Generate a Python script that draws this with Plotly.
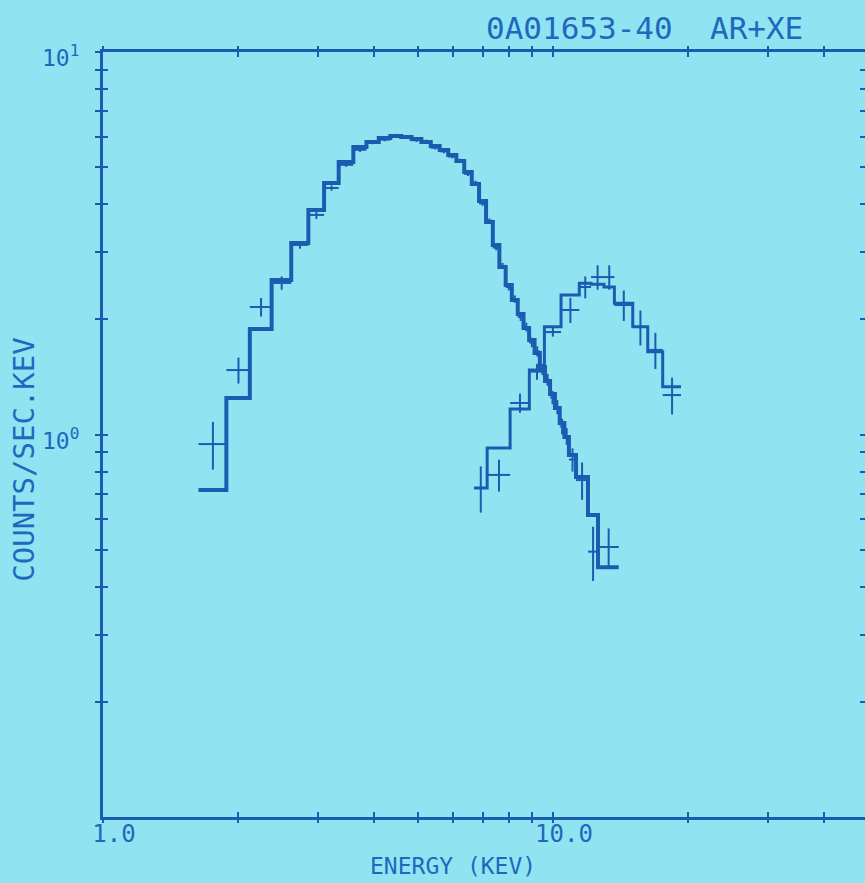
import plotly.graph_objects as go

# ---------------- data ----------------
ar_edges = [1.63, 1.88, 2.12, 2.37, 2.62, 2.86, 3.10, 3.34, 3.60, 3.85, 4.10, 4.35,
            4.60, 4.85, 5.10, 5.35, 5.60, 5.85, 6.10, 6.35, 6.60, 6.85, 7.10, 7.35,
            7.60, 7.85, 8.10, 8.35, 8.60, 8.85, 9.10, 9.35, 9.60, 9.85, 10.10, 10.35,
            10.60, 10.85, 11.25, 11.96, 12.59, 14.0]
ar_model = [0.716, 1.246, 1.887, 2.535, 3.167, 3.863, 4.545, 5.158, 5.644, 5.817,
            5.959, 6.031, 5.995, 5.923, 5.817, 5.678, 5.544, 5.380, 5.188, 4.858,
            4.518, 4.078, 3.594, 3.129, 2.741, 2.460, 2.247, 2.065, 1.898, 1.766,
            1.633, 1.501, 1.380, 1.276, 1.173, 1.072, 0.985, 0.884, 0.774, 0.616, 0.450]
ar_data = [0.944, 1.474, 2.154, 2.49, 3.13, 3.75, 4.41, 5.07, 5.55, 5.80,
           5.90, 6.05, 6.00, 5.88, 5.84, 5.62, 5.50, 5.33, 5.20, 4.80,
           4.55, 4.02, 3.62, 3.08, 2.76, 2.43, 2.26, 2.03, 1.91, 1.74,
           1.65, 1.48, 1.39, 1.25, 1.18, 1.05, 0.99, 0.86, 0.76, 0.494, 0.508]
ar_err = [0.135, 0.115, 0.12, 0.10, 0.07, 0.09, 0.07, 0.06, 0.07, 0.06,
          0.06, 0.06, 0.06, 0.06, 0.06, 0.06, 0.06, 0.06, 0.06, 0.06,
          0.06, 0.06, 0.05, 0.05, 0.05, 0.05, 0.05, 0.05, 0.05, 0.05,
          0.05, 0.05, 0.05, 0.05, 0.05, 0.05, 0.05, 0.06, 0.085, 0.08, 0.06]

xe_edges = [6.68, 7.14, 8.03, 8.86, 9.57, 10.42, 11.44, 12.15, 12.98, 13.69,
            15.04, 16.24, 17.53, 19.25]
xe_model = [0.725, 0.922, 1.166, 1.474, 1.913, 2.316, 2.485, 2.47, 2.43, 2.203,
            1.913, 1.646, 1.334]
xe_data = [0.725, 0.784, 1.209, 1.46, 1.853, 2.116, 2.43, 2.58, 2.58, 2.18,
           1.91, 1.664, 1.268]
xe_err = [0.10, 0.075, 0.07, 0.07, 0.05, 0.16, 0.16, 0.19, 0.19, 0.20,
          0.20, 0.18, 0.14]

x_major = [1, 10]
x_major_text = ["1.0", "10.0"]
x_minor = [2, 3, 4, 5, 6, 7, 8, 9, 20, 30, 40]
y_major = [1, 10]
y_major_text = ["10<sup>0</sup>", "10<sup>1</sup>"]
y_minor = [0.2, 0.3, 0.4, 0.5, 0.6, 0.7, 0.8, 0.9, 2, 3, 4, 5, 6, 7, 8, 9]

title_text = "0A01653-40  AR+XE"
x_title = "ENERGY (KEV)"
y_title = "COUNTS/SEC.KEV"

# ---------------- style ----------------
BG = "#90e4f2"
INK = "#1a5cb0"
TXT = "#1f68bd"
FONT = "DejaVu Sans Mono"
L, T, B = 103, 52, 66
PW = 865 - L


def step_xy(edges, vals):
    return list(edges), list(vals) + [vals[-1]]


def bin_centres(edges):
    c = [(a + b) / 2 for a, b in zip(edges[:-1], edges[1:])]
    h = [(b - a) / 2 for a, b in zip(edges[:-1], edges[1:])]
    return c, h


fig = go.Figure()

for edges, model, lw in [(ar_edges, ar_model, 4), (xe_edges, xe_model, 3)]:
    sx, sy = step_xy(edges, model)
    fig.add_trace(go.Scatter(x=sx, y=sy, mode="lines", line=dict(shape="hv", color=INK, width=lw),
                             showlegend=False, hoverinfo="skip"))

for edges, data, err in [(ar_edges, ar_data, ar_err), (xe_edges, xe_data, xe_err)]:
    c, h = bin_centres(edges)
    fig.add_trace(go.Scatter(
        x=c, y=data, mode="markers", marker=dict(size=1, color=INK),
        error_x=dict(type="data", array=h, visible=True, color=INK, thickness=2, width=0),
        error_y=dict(type="data", array=err, visible=True, color=INK, thickness=2, width=0),
        showlegend=False, hoverinfo="skip"))

XR = [0, PW / 450]
YR = [-1, 1]


def ax(rng, major, minor, direction):
    return dict(type="log", range=rng, tickmode="array", tickvals=major,
                showgrid=False, zeroline=False, tickcolor=INK, tickwidth=2, ticklen=5,
                ticks=direction,
                minor=dict(tickmode="array", tickvals=minor, ticks=direction, ticklen=5,
                           tickwidth=2, tickcolor=INK, showgrid=False))


fig.update_layout(
    width=865, height=883,
    margin=dict(l=L, r=0, t=T, b=B, pad=0),
    paper_bgcolor=BG, plot_bgcolor=BG,
    font=dict(family=FONT, color=TXT),
    xaxis=dict(**ax(XR, x_major, x_minor, "inside"), ticktext=x_major_text,
               showline=True, linecolor=INK, linewidth=3, mirror="ticks",
               tickfont=dict(size=24, family=FONT, color=TXT),
               ticklabelshift=11, ticklabelstandoff=-7),
    xaxis2=dict(**ax(XR, x_major, x_minor, "outside"), overlaying="x", anchor="y",
                side="bottom", showticklabels=False, showline=False, mirror="ticks"),
    yaxis=dict(**ax(YR, y_major, y_minor, "outside"), ticktext=y_major_text,
               showline=True, linecolor=INK, linewidth=3, mirror=False,
               tickfont=dict(size=23, family=FONT, color=TXT),
               ticklabelstandoff=11, ticklabelshift=6),
    yaxis2=dict(**ax(YR, y_major, y_minor, "inside"), overlaying="y", anchor="x",
                side="left", showticklabels=False, showline=False, mirror="ticks"),
    annotations=[
        dict(text=title_text, xref="paper", yref="paper", x=(805 - L) / PW, y=1.031,
             xanchor="right", yanchor="middle", showarrow=False,
             font=dict(size=31, family=FONT, color=TXT)),
        dict(text=x_title, xref="paper", yref="paper", x=(453 - L) / PW, y=-0.064,
             xanchor="center", yanchor="middle", showarrow=False,
             font=dict(size=23, family=FONT, color=TXT)),
        dict(text=y_title, xref="paper", yref="paper", x=0, xshift=-(L - 24), y=0.467,
             xanchor="center", yanchor="middle", textangle=-90, showarrow=False,
             font=dict(size=29, family=FONT, color=TXT)),
    ],
)

fig.add_trace(go.Scatter(x=[], y=[], xaxis="x2", yaxis="y", showlegend=False))
fig.add_trace(go.Scatter(x=[], y=[], xaxis="x", yaxis="y2", showlegend=False))

fig.write_html(
    "out.html",
    config={"displayModeBar": False},
    post_script="document.body.style.margin='0px';document.body.style.padding='0px';"
                "document.body.style.background='" + BG + "';"
                "document.documentElement.style.overflow='hidden';",
)
